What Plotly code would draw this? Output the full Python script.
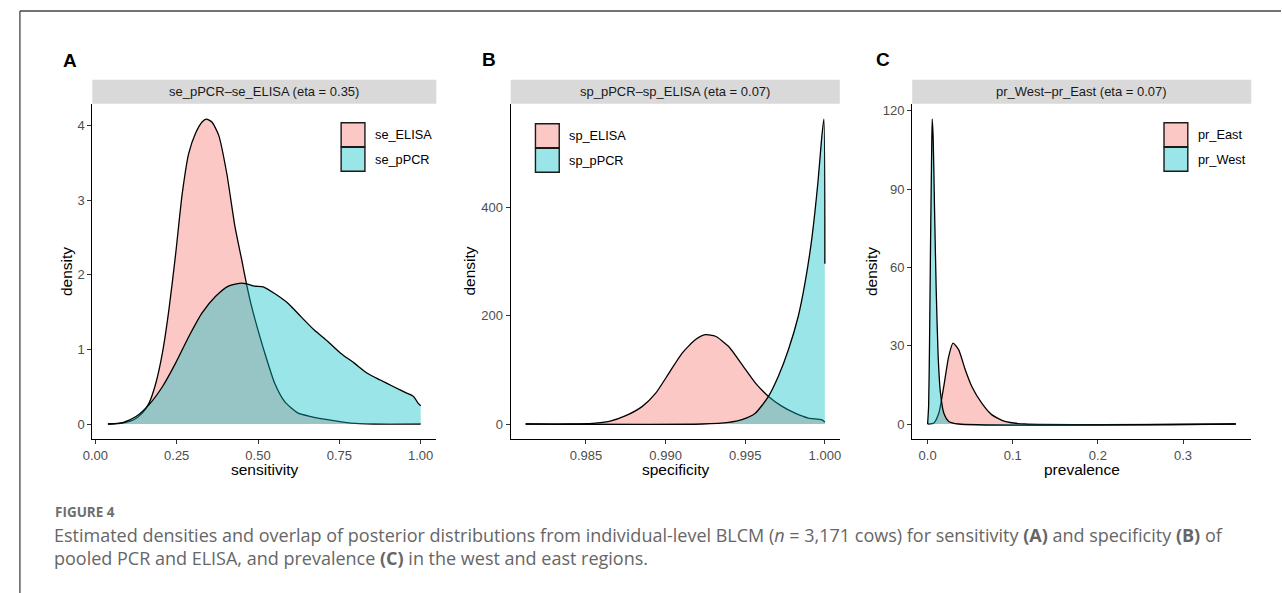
import plotly.graph_objects as go

W, H = 1282, 593

# ---------------- data ----------------
# Panel A: sensitivity
se_elisa_x = [0.0386, 0.084, 0.115, 0.145, 0.165, 0.186, 0.206, 0.226, 0.247, 0.267, 0.287, 0.308,
              0.328, 0.341, 0.358, 0.379, 0.404, 0.429, 0.450, 0.465, 0.480, 0.500, 0.521, 0.551,
              0.582, 0.622, 0.663, 0.714, 0.785, 0.856, 1.0]
se_elisa_d = [0.0, 0.013, 0.05, 0.15, 0.28, 0.55, 0.95, 1.53, 2.29, 3.09, 3.63, 3.90,
              4.05, 4.09, 4.05, 3.875, 3.36, 2.65, 2.20, 1.87, 1.58, 1.26, 0.95, 0.55,
              0.30, 0.15, 0.10, 0.058, 0.013, 0.0, 0.0]
se_ppcr_x = [0.0386, 0.084, 0.125, 0.165, 0.206, 0.247, 0.287, 0.328, 0.369, 0.409, 0.450, 0.465,
             0.490, 0.516, 0.551, 0.592, 0.632, 0.673, 0.714, 0.754, 0.795, 0.836, 0.876, 0.917,
             0.957, 0.978, 0.992, 1.0]
se_ppcr_d = [0.0, 0.02, 0.10, 0.26, 0.50, 0.82, 1.17, 1.49, 1.71, 1.85, 1.89, 1.88,
             1.85, 1.84, 1.75, 1.62, 1.44, 1.26, 1.11, 0.95, 0.82, 0.68, 0.59, 0.50,
             0.415, 0.37, 0.28, 0.245]

# Panel B: specificity
sp_elisa_x = [0.98121, 0.98396, 0.98542, 0.98646, 0.98750, 0.98854, 0.98938, 0.99021, 0.99104,
              0.99188, 0.99250, 0.99313, 0.99396, 0.99479, 0.99563, 0.99646, 0.99729, 0.99813,
              0.99896, 0.99979, 1.0]
sp_elisa_d = [0.0, 0.0, 1.2, 4.9, 15.4, 32.6, 57, 94, 131,
              156, 165, 162, 143, 110, 76, 51, 33, 20,
              11, 8, 3.7]
sp_ppcr_x = [0.98121, 0.99229, 0.99396, 0.99479, 0.99563, 0.99646, 0.99708, 0.99771, 0.99833,
             0.99875, 0.99917, 0.99958, 0.99979, 0.99994, 1.0]
sp_ppcr_d = [0.0, 0.0, 3, 8, 20, 51, 88, 137, 199,
             260, 340, 451, 525, 563, 296]

# Panel C: prevalence
pr_east_x = [0.0, 0.0074, 0.0132, 0.019, 0.0248, 0.0298, 0.0364, 0.0442, 0.0519, 0.0636, 0.0752,
             0.0907, 0.114, 0.362]
pr_east_d = [0.0, 0.4, 4.2, 14.4, 25.9, 31.0, 28.5, 20.8, 14.4, 8.0, 3.6,
             1.0, 0.0, 0.0]
pr_west_x = [0.0, 0.0012, 0.0023, 0.0035, 0.0047, 0.0054, 0.0066, 0.0081, 0.0101, 0.0124, 0.0151,
             0.019, 0.0248, 0.0364, 0.362]
pr_west_d = [0.0, 6.8, 32, 70.6, 102.5, 116.8, 109, 83, 51.4, 25.9, 11.9,
             4.2, 1.0, 0.0, 0.0]

panel_letters = ["A", "B", "C"]
strip_titles = ["se_pPCR–se_ELISA (eta = 0.35)", "sp_pPCR–sp_ELISA (eta = 0.07)",
                "pr_West–pr_East (eta = 0.07)"]
x_titles = ["sensitivity", "specificity", "prevalence"]
series_names = [["se_ELISA", "se_pPCR"], ["sp_ELISA", "sp_pPCR"], ["pr_East", "pr_West"]]
x_tickvals = [[0, 0.25, 0.5, 0.75, 1.0], [0.985, 0.990, 0.995, 1.000], [0.0, 0.1, 0.2, 0.3]]
x_ticktext = [["0.00", "0.25", "0.50", "0.75", "1.00"], ["0.985", "0.990", "0.995", "1.000"],
              ["0.0", "0.1", "0.2", "0.3"]]
y_tickvals = [[0, 1, 2, 3, 4], [0, 200, 400], [0, 30, 60, 90, 120]]
y_ticktext = [["0", "1", "2", "3", "4"], ["0", "200", "400"], ["0", "30", "60", "90", "120"]]

caption_label = "FIGURE 4"
caption_text = ("Estimated densities and overlap of posterior distributions from individual-level BLCM "
                "(<i>n</i> = 3,171 cows) for sensitivity <b>(A)</b> and specificity <b>(B)</b> of<br>"
                "pooled PCR and ELISA, and prevalence <b>(C)</b> in the west and east regions.")

# ---------------- layout geometry (pixels) ----------------
panel_px = [(83, 430), (505, 837), (910, 1252)]
plot_top, plot_bot = 103, 439
strip_top = 79
legend_px = [(334, 122), (530, 123), (1164, 122)]
letter_px = [(61, 60), (483, 59), (881, 59)]
ytitle_x = [57, 464, 869]

def px(x):
    return x / W

def py(y):
    return 1 - y / H

PINK = "rgba(248,118,109,0.4)"
CYAN = "rgba(0,191,196,0.4)"
FONT = "Liberation Sans, Arial, sans-serif"

data = [
    ((se_elisa_x, se_elisa_d), (se_ppcr_x, se_ppcr_d)),
    ((sp_elisa_x, sp_elisa_d), (sp_ppcr_x, sp_ppcr_d)),
    ((pr_east_x, pr_east_d), (pr_west_x, pr_west_d)),
]

fig = go.Figure()
layout = dict(width=W, height=H, margin=dict(l=0, r=0, t=0, b=0), autosize=False,
              paper_bgcolor="white", plot_bgcolor="white", showlegend=False,
              font=dict(family=FONT))
shapes = []
annotations = []

def ann(text, x, y, size, color, family=FONT, xanchor="center", angle=0, align="center"):
    annotations.append(dict(text=text, xref="paper", yref="paper", x=px(x), y=py(y),
                            xanchor=xanchor, yanchor="middle", showarrow=False, textangle=angle,
                            align=align, font=dict(size=size, color=color, family=family)))

for i in range(3):
    sfx = "" if i == 0 else str(i + 1)
    xa, ya = "x" + sfx, "y" + sfx
    (x1, d1), (x2, d2) = data[i]
    for (xs, ds), col, nm in [((x1, d1), PINK, series_names[i][0]), ((x2, d2), CYAN, series_names[i][1])]:
        fig.add_trace(go.Scatter(x=xs, y=ds, mode="lines", name=nm, fill="tozeroy", fillcolor=col,
                                 line=dict(color="black", width=1.3, shape="spline", smoothing=0.6),
                                 xaxis=xa, yaxis=ya, hoverinfo="skip"))
    allx = x1 + x2
    ally = d1 + d2
    xmin, xmax = min(allx), max(allx)
    ymin, ymax = 0, max(ally)
    xs_ = xmax - xmin
    ys_ = ymax - ymin
    l, r = panel_px[i]
    layout["xaxis" + sfx] = dict(
        domain=[px(l), px(r)], range=[xmin - 0.05 * xs_, xmax + 0.05 * xs_], anchor=ya,
        showline=True, linecolor="black", linewidth=1.1, ticks="outside", ticklen=4,
        tickcolor="#333333", tickwidth=1, tickvals=x_tickvals[i], ticktext=x_ticktext[i],
        tickfont=dict(size=13, color="#4D4D4D", family=FONT), showgrid=False, zeroline=False)
    layout["yaxis" + sfx] = dict(
        domain=[py(plot_bot), py(plot_top)], range=[ymin - 0.05 * ys_, ymax + 0.05 * ys_], anchor=xa,
        showline=True, linecolor="black", linewidth=1.1, ticks="outside", ticklen=4,
        tickcolor="#333333", tickwidth=1, tickvals=y_tickvals[i], ticktext=y_ticktext[i],
        tickfont=dict(size=13, color="#4D4D4D", family=FONT), showgrid=False, zeroline=False)
    # strip
    shapes.append(dict(type="rect", xref="paper", yref="paper", x0=px(l), x1=px(r),
                       y0=py(plot_top), y1=py(strip_top), fillcolor="#D9D9D9", line=dict(width=0),
                       layer="below"))
    ann(strip_titles[i], (l + r) / 2, (plot_top + strip_top) / 2, 13, "#1A1A1A")
    ann("<b>" + panel_letters[i] + "</b>", letter_px[i][0], letter_px[i][1], 19, "black")
    ann(x_titles[i], (l + r) / 2, 469, 15.5, "black")
    ann("density", ytitle_x[i], (plot_top + plot_bot) / 2, 15.5, "black", angle=-90)
    # legend
    lx, ly = legend_px[i]
    for k, col in enumerate([PINK, CYAN]):
        y0 = ly + k * 24.5
        shapes.append(dict(type="rect", xref="paper", yref="paper", x0=px(lx), x1=px(lx + 24),
                           y0=py(y0 + 24), y1=py(y0), fillcolor=col,
                           line=dict(color="#1A1A1A", width=1.4)))
        ann(series_names[i][k], lx + 32, y0 + 12, 12.75, "black", xanchor="left")

# frame
shapes.append(dict(type="line", xref="paper", yref="paper", x0=px(10), x1=1.0, y0=py(10), y1=py(10),
                   line=dict(color="#444444", width=1.3)))
shapes.append(dict(type="line", xref="paper", yref="paper", x0=px(10), x1=px(10), y0=py(10), y1=0,
                   line=dict(color="#444444", width=1.3)))

CAPFONT = "Open Sans, Noto Sans, sans-serif"
ann("<b>" + caption_label + "</b>", 43, 512, 13.5, "#6E6E6E", family=CAPFONT, xanchor="left")
ann(caption_text, 42, 546.5, 18, "#666666", family=CAPFONT, xanchor="left", align="left")

layout["shapes"] = shapes
layout["annotations"] = annotations
fig.update_layout(**layout)
fig.write_html("out.html",
               post_script="document.body.style.margin='0';document.body.style.overflow='hidden';")
